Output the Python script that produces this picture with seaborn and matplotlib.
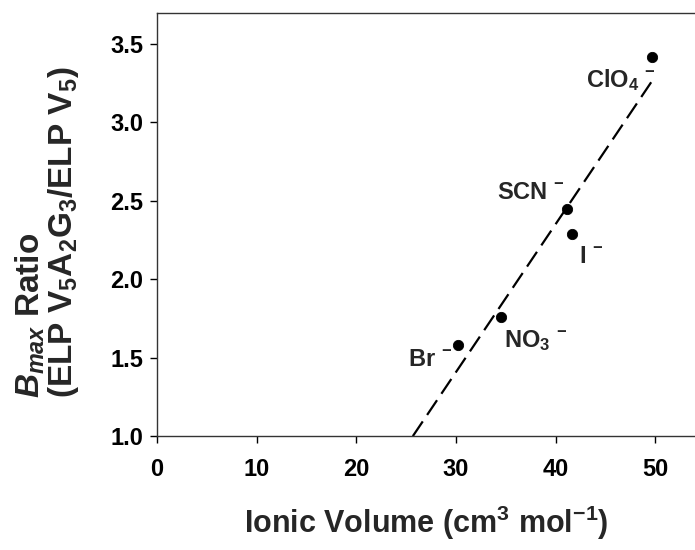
import numpy as np
import pandas as pd
import matplotlib
matplotlib.use("Agg")
import matplotlib.pyplot as plt
import seaborn as sns

# data
anions = ["Br", "NO3", "SCN", "I", "ClO4"]
ionic_volume = [30.2, 34.5, 41.2, 41.7, 49.7]
bmax_ratio = [1.58, 1.76, 2.45, 2.29, 3.42]

labels = {
    "Br": r"Br $^{-}$",
    "NO3": r"NO$\mathregular{_3}$ $^{-}$",
    "SCN": r"SCN $^{-}$",
    "I": r"I $^{-}$",
    "ClO4": r"ClO$\mathregular{_4}$ $^{-}$",
}
# label offsets in points and alignment
offsets = {
    "Br": ((-4, -10), "right"),
    "NO3": ((2, -17), "left"),
    "SCN": ((-2, 12), "right"),
    "I": ((5, -16), "left"),
    "ClO4": ((3, -17), "right"),
}

df = pd.DataFrame({"anion": anions, "volume": ionic_volume, "ratio": bmax_ratio})

sns.set_style("ticks")
plt.rcParams["font.family"] = ["Liberation Sans", "DejaVu Sans"]
plt.rcParams["font.weight"] = "bold"
plt.rcParams["mathtext.fontset"] = "custom"
plt.rcParams["mathtext.rm"] = "Liberation Sans:bold"
plt.rcParams["mathtext.it"] = "Liberation Sans:italic:bold"
plt.rcParams["mathtext.bf"] = "Liberation Sans:bold"

fig = plt.figure(figsize=(6.95, 5.5), dpi=100)
ax = fig.add_axes([0.226, 0.207, 0.774, 0.770])

ymin, ymax = 1.0, 3.7

# linear fit, drawn from the bottom of the axis up to the largest anion
slope, intercept = np.polyfit(df["volume"], df["ratio"], 1)
x_start = (ymin - intercept) / slope
fit = pd.DataFrame({"volume": [x_start, df["volume"].max()]})
fit["ratio"] = slope * fit["volume"] + intercept
sns.lineplot(data=fit, x="volume", y="ratio", ax=ax, color="black",
             linewidth=1.6, linestyle=(0, (8, 3.5)))

sns.scatterplot(data=df, x="volume", y="ratio", ax=ax, color="black",
                s=55, edgecolor="black", zorder=3)

for _, row in df.iterrows():
    (dx, dy), ha = offsets[row["anion"]]
    ax.annotate(labels[row["anion"]], (row["volume"], row["ratio"]),
                xytext=(dx, dy), textcoords="offset points",
                ha=ha, va="center", fontsize=17, fontweight="bold")

ax.set_xlim(0, 54)
ax.set_ylim(ymin, ymax)
ax.set_xticks([0, 10, 20, 30, 40, 50])
ax.set_yticks([1.0, 1.5, 2.0, 2.5, 3.0, 3.5])
ax.set_yticklabels([f"{v:.1f}" for v in ax.get_yticks()])
ax.tick_params(axis="both", labelsize=17, length=5, width=1, direction="out",
               colors="black")
ax.tick_params(axis="x", pad=11)
ax.tick_params(axis="y", pad=5)
for lab in ax.get_xticklabels() + ax.get_yticklabels():
    lab.set_fontweight("bold")
for side in ["left", "bottom", "top"]:
    ax.spines[side].set_color("#333333")
    ax.spines[side].set_linewidth(1)
ax.spines["right"].set_visible(False)

ax.set_xlabel(r"Ionic Volume (cm$^{3}$ mol$^{-1}$)", fontsize=22,
              fontweight="bold", labelpad=16)
ax.set_ylabel("")
fig.text(0.068, 0.578,
         "$\\mathit{B}_{\\mathit{max}}$ Ratio\n(ELP V$_{5}$A$_{2}$G$_{3}$/ELP V$_{5}$)",
         rotation=90, ha="center", va="center", multialignment="left",
         fontsize=24, fontweight="bold", linespacing=0.95)

fig.savefig("out.png", dpi=100)
